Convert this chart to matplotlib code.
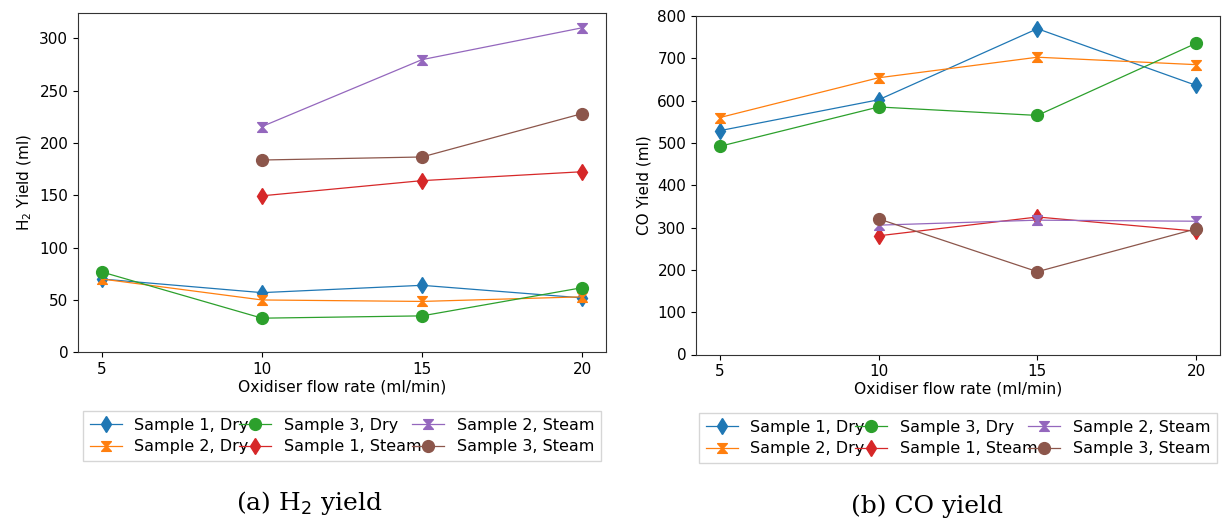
import matplotlib
matplotlib.use("Agg")
import matplotlib.pyplot as plt
from matplotlib.path import Path

flow_dry = [5, 10, 15, 20]
flow_steam = [10, 15, 20]

labels = ["Sample 1, Dry", "Sample 2, Dry", "Sample 3, Dry",
          "Sample 1, Steam", "Sample 2, Steam", "Sample 3, Steam"]

h2_s1_dry = [70, 57, 64, 52]
h2_s2_dry = [70, 50, 48.6, 53]
h2_s3_dry = [76.7, 32.6, 34.8, 61.7]
h2_s1_steam = [149.5, 164, 172.5]
h2_s2_steam = [215.7, 279.6, 310]
h2_s3_steam = [183.7, 186.6, 228]

co_s1_dry = [529, 602, 770, 636]
co_s2_dry = [560, 654, 702.6, 685]
co_s3_dry = [492, 585, 565, 735.6]
co_s1_steam = [280.5, 325, 291.5]
co_s2_steam = [305.7, 317.5, 315]
co_s3_steam = [320.6, 195.7, 297]

hourglass = Path([(-1, 1), (1, 1), (0.1, 0), (1, -1), (-1, -1), (-0.1, 0), (-1, 1)],
                 [Path.MOVETO, Path.LINETO, Path.LINETO, Path.LINETO, Path.LINETO,
                  Path.LINETO, Path.CLOSEPOLY])

colors = ["#1f77b4", "#ff7f0e", "#2ca02c", "#d62728", "#9467bd", "#8c564b"]
markers = ["d", hourglass, "o", "d", hourglass, "o"]
sizes = [8.5, 7, 8.5, 8.5, 7, 8.5]

plt.rcParams['font.family'] = ['DejaVu Sans']
fig = plt.figure(figsize=(12.23, 5.21), dpi=100)
ax1 = fig.add_axes([78 / 1223, 1 - 352.3 / 521, 528 / 1223, 339 / 521])
ax2 = fig.add_axes([696 / 1223, 1 - 354.5 / 521, 524 / 1223, 338.5 / 521])


def draw(ax, series, ylabel):
    xs = [flow_dry, flow_dry, flow_dry, flow_steam, flow_steam, flow_steam]
    for i, (x, y) in enumerate(zip(xs, series)):
        ax.plot(x, y, color=colors[i], marker=markers[i], markersize=sizes[i],
                linewidth=0.9, label=labels[i])
    ax.set_xticks([5, 10, 15, 20])
    ax.set_xlabel("Oxidiser flow rate (ml/min)", fontsize=11.2, labelpad=2)
    ax.set_ylabel(ylabel, fontsize=11)
    ax.tick_params(labelsize=11)
    for s in ax.spines.values():
        s.set_color("#333333")
    leg = ax.legend(loc="upper center", bbox_to_anchor=(0.5, -0.15), ncol=3,
                    fontsize=11.5, columnspacing=-0.6, handletextpad=0.8,
                    handlelength=2.0, labelspacing=0.42, borderpad=0.4,
                    fancybox=False, edgecolor="#cccccc")
    return leg


draw(ax1, [h2_s1_dry, h2_s2_dry, h2_s3_dry, h2_s1_steam, h2_s2_steam, h2_s3_steam],
     "H$_2$ Yield (ml)")
ax1.set_ylim(bottom=0)
draw(ax2, [co_s1_dry, co_s2_dry, co_s3_dry, co_s1_steam, co_s2_steam, co_s3_steam],
     "CO Yield (ml)")
ax2.set_ylim(0, 800)

fig.text(309 / 1223, 1 - 503 / 521, "(a) H$_2$ yield", ha="center", va="center",
         fontsize=18, family="DejaVu Serif")
fig.text(927 / 1223, 1 - 506 / 521, "(b) CO yield", ha="center", va="center",
         fontsize=18, family="DejaVu Serif")

fig.savefig("out.png", dpi=100)
